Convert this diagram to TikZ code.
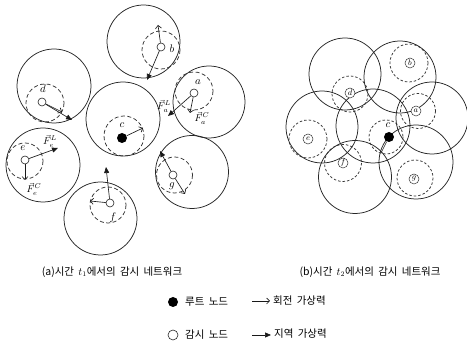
\documentclass[tikz,border=0pt]{standalone}
\usepackage{fontspec}
\newfontfamily\kr[WordSpace=1.8]{Noto Sans CJK KR}
\usetikzlibrary{arrows.meta}
\begin{document}
\begin{tikzpicture}[x=1pt,y=-1pt,
  rng/.style={draw=black!85, line width=0.75pt},
  sens/.style={draw=black!80, line width=0.75pt, dash pattern=on 4pt off 2.5pt},
  sensb/.style={draw=black!80, line width=0.75pt, dash pattern=on 2.5pt off 2pt},
  opennode/.style={circle, draw=black!85, line width=0.6pt, minimum size=8pt, inner sep=0pt, fill=white},
  rootnode/.style={circle, fill=black, minimum size=10pt, inner sep=0pt},
  legopen/.style={circle, draw=black!85, line width=0.6pt, minimum size=10pt, inner sep=0pt},
  rotf/.style={draw=black!90, line width=0.65pt, -{Straight Barb[length=3pt,width=6pt]}},
  locf/.style={draw=black!90, line width=0.65pt, -{Triangle[length=6pt,width=5pt]}},
  lbl/.style={inner sep=0pt, font=\fontsize{11}{11}\selectfont},
  flbl/.style={inner sep=0pt, font=\fontsize{10}{10}\selectfont},
  cnode/.style={circle, draw=black!80, line width=0.5pt, minimum size=10pt, inner sep=0pt, fill=white, font=\fontsize{8.5}{8.5}\selectfont},
  captxt/.style={inner sep=0pt, font=\kr\fontsize{10.5}{12}\selectfont},
]
\useasboundingbox (0,0) rectangle (467,344);

% ---------- panel (a): ranges ----------
\draw[rng] (143.5,41.5) circle (36.5);
\draw[rng] (54,86) circle (37);
\draw[rng] (123,119) circle (37);
\draw[rng] (209,102) circle (36);
\draw[rng] (43,165) circle (37);
\draw[rng] (192,172) circle (36.5);
\draw[rng] (100.5,218.5) circle (36.5);
% sensing ranges
\draw[sens] (161,50) circle (19);
\draw[sens] (45,103) circle (19);
\draw[sens] (124,136) circle (20);
\draw[sens] (194,91) circle (19);
\draw[sens] (25,161) circle (18);
\draw[sens] (174.5,175) circle (18);
\draw[sens] (108,205) circle (18);

% nodes
\node[opennode] (na) at (194,93) {};
\node[opennode] (nb) at (161,47) {};
\node[rootnode] (nc) at (122,138) {};
\node[opennode] (nd) at (42,102) {};
\node[opennode] (ne) at (25,160) {};
\node[opennode] (nf) at (110,203) {};
\node[opennode] (ng) at (173,175) {};

% force end points
\coordinate (aL) at (168,116); \coordinate (aC) at (190,113);
\coordinate (bC) at (158,25);  \coordinate (bL) at (147,80);
\coordinate (cC) at (143,128);
\coordinate (dL) at (72,120);  \coordinate (dC) at (62,112);
\coordinate (eL) at (58,148);  \coordinate (eC) at (25,180);
\coordinate (fL) at (106,167); \coordinate (fC) at (90,201);
\coordinate (gL) at (160,151); \coordinate (gC) at (185,194);

\draw[locf] (na) -- (aL); \draw[rotf] (na) -- (aC);
\draw[rotf] (nb) -- (bC); \draw[locf] (nb) -- (bL);
\draw[rotf] (nc) -- (cC);
\draw[locf] (nd) -- (dL); \draw[rotf] (nd) -- (dC);
\draw[locf] (ne) -- (eL); \draw[rotf] (ne) -- (eC);
\draw[locf] (nf) -- (fL); \draw[rotf] (nf) -- (fC);
\draw[locf] (ng) -- (gL); \draw[rotf] (ng) -- (gC);

% labels
\node[lbl] (la) at (198,82) {$a$};
\node[lbl] (lb) at (172,49) {$b$};
\node[lbl] (lc) at (122,125) {$c$};
\node[lbl] (ld) at (43,89) {$d$};
\node[lbl] (le) at (23,148) {$e$};
\node[lbl] (lf) at (113,218) {$f$};
\node[lbl] (lg) at (172,186) {$g$};
\node[flbl] (laL) at (164,106) {$\vec{F}_a^L$};
\node[flbl] (laC) at (202,118) {$\vec{F}_a^C$};
\node[flbl] (leL) at (50,141) {$\vec{F}_e^L$};
\node[flbl] (leC) at (34,189) {$\vec{F}_e^C$};

% ---------- panel (b) ----------
\draw[rng] (345,74) circle (36);
\draw[rng] (400,77) circle (36);
\draw[rng] (432,118) circle (36);
\draw[rng] (373,126) circle (37);
\draw[rng] (322,127) circle (36);
\draw[rng] (355,177) circle (36.5);
\draw[rng] (416,162) circle (37);
\draw[sensb] (350,94) circle (18);
\draw[sensb] (409,63) circle (19);
\draw[sensb] (418,111) circle (17.5);
\draw[sensb] (386,137) circle (17);
\draw[sensb] (308,139) circle (19);
\draw[sensb] (343,163) circle (18.5);
\draw[sensb] (415,178) circle (18);

\node[cnode] (pd) at (350,93) {$d$};
\node[cnode] (pb) at (410,63) {$b$};
\node[cnode] (pa) at (416,111) {$a$};
\node[cnode] (pe) at (308,139) {$e$};
\node[cnode] (pf) at (343,163) {$f$};
\node[cnode] (pg) at (414,179) {$g$};
\node[rootnode] (pc) at (389,137) {};
\node[lbl] (lpc) at (388,125) {$c$};
\coordinate (pcend) at (381,153);
\draw[draw=black!85, line width=0.6pt] (pc) -- (pcend);

% ---------- captions ----------
\node[captxt] (capa) at (112,272) {(a)시간 $t_1$에서의 감시 네트워크};
\node[captxt] (capb) at (370,272) {(b)시간 $t_2$에서의 감시 네트워크};

% ---------- legend ----------
\node[rootnode] (lgroot) at (173,302) {};
\node[captxt, anchor=west] (lgroott) at (185,302) {루트 노드};
\coordinate (lgr1) at (252,301); \coordinate (lgr2) at (270,301);
\draw[rotf] (lgr1) -- (lgr2);
\node[captxt, anchor=west] (lgrott) at (273,301) {회전 가상력};
\node[legopen] (lgsens) at (173,335) {};
\node[captxt, anchor=west] (lgsenst) at (185,335) {감시 노드};
\coordinate (lgl1) at (252,335); \coordinate (lgl2) at (271,335);
\draw[locf] (lgl1) -- (lgl2);
\node[captxt, anchor=west] (lgloct) at (274,334) {지역 가상력};
\end{tikzpicture}
\end{document}
